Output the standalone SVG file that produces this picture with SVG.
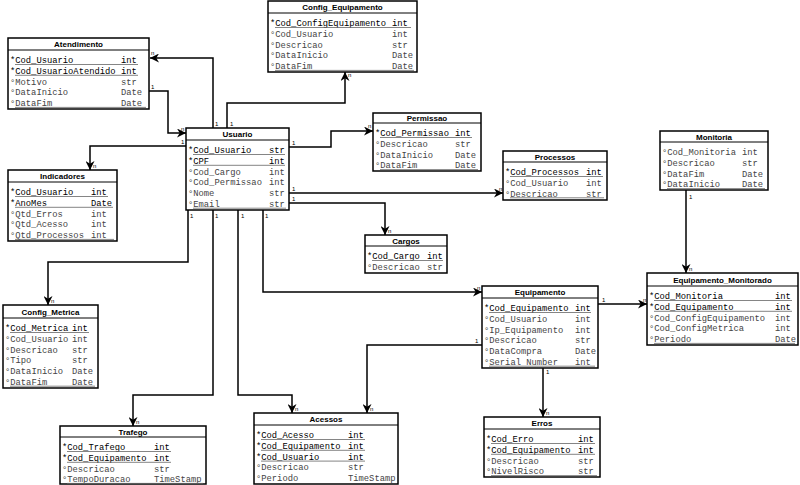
<svg xmlns="http://www.w3.org/2000/svg" width="800" height="485" viewBox="0 0 800 485">
<style>
.box{fill:#fff;stroke:#000;stroke-width:1.5}
.sep{stroke:#000;stroke-width:1}
.ul{stroke:#666;stroke-width:0.8}
.title{font-family:"Liberation Sans",Arial,sans-serif;font-weight:bold;font-size:8px;text-anchor:middle;fill:#000}
.pk{font-family:"Liberation Mono","Courier New",monospace;font-size:8.8px;fill:#000}
.at{font-family:"Liberation Mono","Courier New",monospace;font-size:8.8px;fill:#444}
.con{fill:none;stroke:#000;stroke-width:1.5}
.lbl{font-family:"Liberation Sans",Arial,sans-serif;font-size:6px;fill:#000}
</style>
<defs>
<marker id="arr" viewBox="0 0 10 10" refX="10" refY="5" markerWidth="9" markerHeight="9" markerUnits="userSpaceOnUse" orient="auto">
<path d="M0,0 L10,5 L0,10 L3,5 z" fill="#000"/>
</marker>
</defs>
<rect width="800" height="485" fill="#fff"/>

<g id="connectors">
<path class="con" d="M213,128 V58 H150" marker-end="url(#arr)"/>
<path class="con" d="M149,91 H168 V133 H186" marker-end="url(#arr)"/>
<path class="con" d="M227,128 V103 H345 V72" marker-end="url(#arr)"/>
<path class="con" d="M186,146 H90 V170" marker-end="url(#arr)"/>
<path class="con" d="M289,147 H331 V131 H373" marker-end="url(#arr)"/>
<path class="con" d="M289,193 H503" marker-end="url(#arr)"/>
<path class="con" d="M289,203 H385 V235" marker-end="url(#arr)"/>
<path class="con" d="M188,210 V262 H48 V305" marker-end="url(#arr)"/>
<path class="con" d="M213,210 V395 H133 V426" marker-end="url(#arr)"/>
<path class="con" d="M238,210 V395 H292 V413" marker-end="url(#arr)"/>
<path class="con" d="M263,210 V292 H482" marker-end="url(#arr)"/>
<path class="con" d="M598,304 H647" marker-end="url(#arr)"/>
<path class="con" d="M482,345 H367 V413" marker-end="url(#arr)"/>
<path class="con" d="M543,368 V417" marker-end="url(#arr)"/>
<path class="con" d="M686,190 V273" marker-end="url(#arr)"/>
<g class="lbl">
<text x="215" y="126">1</text>
<text x="230" y="126">1</text>
<text x="151" y="89">1</text>
<text x="181" y="144">1</text>
<text x="292" y="145">1</text>
<text x="292" y="191">1</text>
<text x="292" y="201">1</text>
<text x="190" y="218">1</text>
<text x="215" y="218">1</text>
<text x="241" y="218">1</text>
<text x="265" y="218">1</text>
<text x="602" y="302">1</text>
<text x="475" y="343">1</text>
<text x="546" y="374">1</text>
<text x="689" y="199">1</text>
<text x="151" y="55">n</text>
<text x="181" y="131">n</text>
<text x="348" y="77">n</text>
<text x="93" y="168">n</text>
<text x="368" y="128">n</text>
<text x="499" y="191">n</text>
<text x="388" y="233">n</text>
<text x="51" y="303">n</text>
<text x="136" y="424">n</text>
<text x="295" y="411">n</text>
<text x="477" y="290">n</text>
<text x="643" y="302">n</text>
<text x="370" y="411">n</text>
<text x="546" y="415">n</text>
<text x="689" y="271">n</text>
</g>
</g>

<g id="Config_Equipamento">
<rect class="box" x="268" y="1" width="149" height="71"/>
<text class="title" x="342.5" y="10">Config_Equipamento</text>
<line class="sep" x1="268" y1="13" x2="417" y2="13"/>
<text class="pk" x="270" y="26">*Cod_ConfigEquipamento</text><text class="pk" x="392" y="26">int</text>
<line class="ul" x1="275" y1="27.5" x2="411" y2="27.5"/>
<text class="at" x="270" y="36.8">°Cod_Usuario</text><text class="at" x="392" y="36.8">int</text>
<text class="at" x="270" y="47.6">°Descricao</text><text class="at" x="392" y="47.6">str</text>
<text class="at" x="270" y="58.4">°DataInicio</text><text class="at" x="392" y="58.4">Date</text>
<text class="at" x="270" y="69.2">°DataFim</text><text class="at" x="392" y="69.2">Date</text>
<line class="ul" x1="275" y1="70.4" x2="414" y2="70.4"/>
</g>

<g id="Atendimento">
<rect class="box" x="8" y="38" width="141" height="71"/>
<text class="title" x="78.5" y="47">Atendimento</text>
<line class="sep" x1="8" y1="50" x2="149" y2="50"/>
<text class="pk" x="10" y="63">*Cod_Usuario</text><text class="pk" x="121" y="63">int</text>
<line class="ul" x1="15" y1="64.5" x2="138" y2="64.5"/>
<text class="pk" x="10" y="73.8">*Cod_UsuarioAtendido</text><text class="pk" x="121" y="73.8">int</text>
<line class="ul" x1="15" y1="75.3" x2="138" y2="75.3"/>
<text class="at" x="10" y="84.6">°Motivo</text><text class="at" x="121" y="84.6">str</text>
<text class="at" x="10" y="95.4">°DataInicio</text><text class="at" x="121" y="95.4">Date</text>
<text class="at" x="10" y="106.2">°DataFim</text><text class="at" x="121" y="106.2">Date</text>
<line class="ul" x1="15" y1="107.4" x2="146" y2="107.4"/>
</g>

<g id="Usuario">
<rect class="box" x="186" y="128" width="103" height="82"/>
<text class="title" x="237.5" y="137">Usuario</text>
<line class="sep" x1="186" y1="140" x2="289" y2="140"/>
<text class="pk" x="188" y="153">*Cod_Usuario</text><text class="pk" x="269" y="153">str</text>
<line class="ul" x1="193" y1="154.5" x2="285" y2="154.5"/>
<text class="pk" x="188" y="163.8">*CPF</text><text class="pk" x="269" y="163.8">int</text>
<line class="ul" x1="193" y1="165.3" x2="285" y2="165.3"/>
<text class="at" x="188" y="174.6">°Cod_Cargo</text><text class="at" x="269" y="174.6">int</text>
<text class="at" x="188" y="185.4">°Cod_Permissao</text><text class="at" x="269" y="185.4">int</text>
<text class="at" x="188" y="196.2">°Nome</text><text class="at" x="269" y="196.2">str</text>
<text class="at" x="188" y="207">°Email</text><text class="at" x="269" y="207">str</text>
<line class="ul" x1="193" y1="208.2" x2="286" y2="208.2"/>
</g>

<g id="Permissao">
<rect class="box" x="373" y="113" width="108" height="58"/>
<text class="title" x="427" y="121">Permissao</text>
<line class="sep" x1="373" y1="123" x2="481" y2="123"/>
<text class="pk" x="375" y="136">*Cod_Permissao</text><text class="pk" x="455" y="136">int</text>
<line class="ul" x1="380" y1="137.5" x2="472" y2="137.5"/>
<text class="at" x="375" y="146.8">°Descricao</text><text class="at" x="455" y="146.8">str</text>
<text class="at" x="375" y="157.6">°DataInicio</text><text class="at" x="455" y="157.6">Date</text>
<text class="at" x="375" y="168.4">°DataFim</text><text class="at" x="455" y="168.4">Date</text>
<line class="ul" x1="380" y1="169.6" x2="478" y2="169.6"/>
</g>

<g id="Processos">
<rect class="box" x="503" y="151" width="104" height="49"/>
<text class="title" x="555" y="159.5">Processos</text>
<line class="sep" x1="503" y1="162" x2="607" y2="162"/>
<text class="pk" x="505" y="175">*Cod_Processos</text><text class="pk" x="586" y="175">int</text>
<line class="ul" x1="510" y1="176.5" x2="603" y2="176.5"/>
<text class="at" x="505" y="185.8">°Cod_Usuario</text><text class="at" x="586" y="185.8">int</text>
<text class="at" x="505" y="196.6">°Descricao</text><text class="at" x="586" y="196.6">str</text>
<line class="ul" x1="510" y1="197.8" x2="604" y2="197.8"/>
</g>

<g id="Monitoria">
<rect class="box" x="660" y="131" width="108" height="59"/>
<text class="title" x="714" y="139.5">Monitoria</text>
<line class="sep" x1="660" y1="142" x2="768" y2="142"/>
<text class="at" x="662" y="155">°Cod_Monitoria</text><text class="at" x="742" y="155">int</text>
<text class="at" x="662" y="165.8">°Descricao</text><text class="at" x="742" y="165.8">str</text>
<text class="at" x="662" y="176.6">°DataFim</text><text class="at" x="742" y="176.6">Date</text>
<text class="at" x="662" y="187.4">°DataInicio</text><text class="at" x="742" y="187.4">Date</text>
<line class="ul" x1="667" y1="188.6" x2="765" y2="188.6"/>
</g>

<g id="Indicadores">
<rect class="box" x="8" y="170" width="109" height="71"/>
<text class="title" x="62.5" y="179">Indicadores</text>
<line class="sep" x1="8" y1="182" x2="117" y2="182"/>
<text class="pk" x="10" y="195">*Cod_Usuario</text><text class="pk" x="91" y="195">int</text>
<line class="ul" x1="15" y1="196.5" x2="108" y2="196.5"/>
<text class="pk" x="10" y="205.8">*AnoMes</text><text class="pk" x="91" y="205.8">Date</text>
<line class="ul" x1="15" y1="207.3" x2="113" y2="207.3"/>
<text class="at" x="10" y="216.6">°Qtd_Erros</text><text class="at" x="91" y="216.6">int</text>
<text class="at" x="10" y="227.4">°Qtd_Acesso</text><text class="at" x="91" y="227.4">int</text>
<text class="at" x="10" y="238.2">°Qtd_Processos</text><text class="at" x="91" y="238.2">int</text>
<line class="ul" x1="15" y1="239.4" x2="114" y2="239.4"/>
</g>

<g id="Cargos">
<rect class="box" x="365" y="235" width="82" height="38"/>
<text class="title" x="406" y="243.5">Cargos</text>
<line class="sep" x1="365" y1="246" x2="447" y2="246"/>
<text class="pk" x="367" y="259">*Cod_Cargo</text><text class="pk" x="427" y="259">int</text>
<line class="ul" x1="372" y1="260.5" x2="443" y2="260.5"/>
<text class="at" x="367" y="269.8">°Descricao</text><text class="at" x="427" y="269.8">str</text>
</g>

<g id="Config_Metrica">
<rect class="box" x="3" y="305" width="95" height="83"/>
<text class="title" x="50.5" y="314.5">Config_Metrica</text>
<line class="sep" x1="3" y1="318" x2="98" y2="318"/>
<text class="pk" x="5" y="331">*Cod_Metrica</text><text class="pk" x="72" y="331">int</text>
<line class="ul" x1="10" y1="332.5" x2="89" y2="332.5"/>
<text class="at" x="5" y="341.8">°Cod_Usuario</text><text class="at" x="72" y="341.8">int</text>
<text class="at" x="5" y="352.6">°Descricao</text><text class="at" x="72" y="352.6">str</text>
<text class="at" x="5" y="363.4">°Tipo</text><text class="at" x="72" y="363.4">str</text>
<text class="at" x="5" y="374.2">°DataInicio</text><text class="at" x="72" y="374.2">Date</text>
<text class="at" x="5" y="385">°DataFim</text><text class="at" x="72" y="385">Date</text>
<line class="ul" x1="10" y1="386.2" x2="95" y2="386.2"/>
</g>

<g id="Equipamento">
<rect class="box" x="482" y="286" width="116" height="82"/>
<text class="title" x="540" y="295">Equipamento</text>
<line class="sep" x1="482" y1="298" x2="598" y2="298"/>
<text class="pk" x="484" y="311">*Cod_Equipamento</text><text class="pk" x="575" y="311">int</text>
<line class="ul" x1="489" y1="312.5" x2="591" y2="312.5"/>
<text class="at" x="484" y="321.8">°Cod_Usuario</text><text class="at" x="575" y="321.8">int</text>
<text class="at" x="484" y="332.6">°Ip_Equipamento</text><text class="at" x="575" y="332.6">int</text>
<text class="at" x="484" y="343.4">°Descricao</text><text class="at" x="575" y="343.4">str</text>
<text class="at" x="484" y="354.2">°DataCompra</text><text class="at" x="575" y="354.2">Date</text>
<text class="at" x="484" y="365">°Serial Number</text><text class="at" x="575" y="365">int</text>
<line class="ul" x1="489" y1="366.2" x2="595" y2="366.2"/>
</g>

<g id="Equipamento_Monitorado">
<rect class="box" x="647" y="273" width="151" height="72"/>
<text class="title" x="722.5" y="282.5">Equipamento_Monitorado</text>
<line class="sep" x1="647" y1="286" x2="798" y2="286"/>
<text class="pk" x="649" y="299">*Cod_Monitoria</text><text class="pk" x="775" y="299">int</text>
<line class="ul" x1="654" y1="300.5" x2="792" y2="300.5"/>
<text class="pk" x="649" y="309.8">*Cod_Equipamento</text><text class="pk" x="775" y="309.8">int</text>
<line class="ul" x1="654" y1="311.3" x2="792" y2="311.3"/>
<text class="at" x="649" y="320.6">°Cod_ConfigEquipamento</text><text class="at" x="775" y="320.6">int</text>
<text class="at" x="649" y="331.4">°Cod_ConfigMetrica</text><text class="at" x="775" y="331.4">int</text>
<text class="at" x="649" y="342.2">°Periodo</text><text class="at" x="775" y="342.2">Date</text>
<line class="ul" x1="654" y1="343.4" x2="795" y2="343.4"/>
</g>

<g id="Trafego">
<rect class="box" x="60" y="426" width="146" height="58"/>
<text class="title" x="133" y="434.5">Trafego</text>
<line class="sep" x1="60" y1="437" x2="206" y2="437"/>
<text class="pk" x="62" y="450">*Cod_Trafego</text><text class="pk" x="154" y="450">int</text>
<line class="ul" x1="67" y1="451.5" x2="171" y2="451.5"/>
<text class="pk" x="62" y="460.8">*Cod_Equipamento</text><text class="pk" x="154" y="460.8">int</text>
<line class="ul" x1="67" y1="462.3" x2="171" y2="462.3"/>
<text class="at" x="62" y="471.6">°Descricao</text><text class="at" x="154" y="471.6">str</text>
<text class="at" x="62" y="482.4">°TempoDuracao</text><text class="at" x="154" y="482.4">TimeStamp</text>
<line class="ul" x1="67" y1="483.4" x2="203" y2="483.4"/>
</g>

<g id="Acessos">
<rect class="box" x="254" y="413" width="144" height="71"/>
<text class="title" x="326" y="422">Acessos</text>
<line class="sep" x1="254" y1="425" x2="398" y2="425"/>
<text class="pk" x="256" y="438">*Cod_Acesso</text><text class="pk" x="348" y="438">int</text>
<line class="ul" x1="261" y1="439.5" x2="365" y2="439.5"/>
<text class="pk" x="256" y="448.8">*Cod_Equipamento</text><text class="pk" x="348" y="448.8">int</text>
<line class="ul" x1="261" y1="450.3" x2="365" y2="450.3"/>
<text class="pk" x="256" y="459.6">*Cod_Usuario</text><text class="pk" x="348" y="459.6">int</text>
<line class="ul" x1="261" y1="461.1" x2="365" y2="461.1"/>
<text class="at" x="256" y="470.4">°Descricao</text><text class="at" x="348" y="470.4">str</text>
<text class="at" x="256" y="481.2">°Periodo</text><text class="at" x="348" y="481.2">TimeStamp</text>
</g>

<g id="Erros">
<rect class="box" x="484" y="417" width="116" height="60"/>
<text class="title" x="542" y="426">Erros</text>
<line class="sep" x1="484" y1="429" x2="600" y2="429"/>
<text class="pk" x="486" y="442">*Cod_Erro</text><text class="pk" x="578" y="442">int</text>
<line class="ul" x1="491" y1="443.5" x2="595" y2="443.5"/>
<text class="pk" x="486" y="452.8">*Cod_Equipamento</text><text class="pk" x="578" y="452.8">int</text>
<line class="ul" x1="491" y1="454.3" x2="595" y2="454.3"/>
<text class="at" x="486" y="463.6">°Descricao</text><text class="at" x="578" y="463.6">str</text>
<text class="at" x="486" y="474.4">°NivelRisco</text><text class="at" x="578" y="474.4">str</text>
<line class="ul" x1="491" y1="475.6" x2="597" y2="475.6"/>
</g>
</svg>
